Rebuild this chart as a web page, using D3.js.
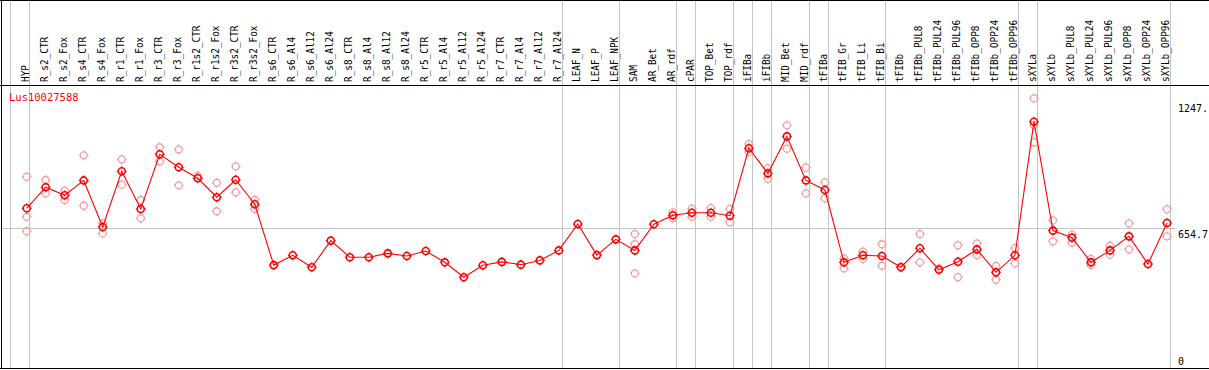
<!DOCTYPE html>
<html>
<head>
<meta charset="utf-8">
<script src="https://cdn.jsdelivr.net/npm/d3@7"></script>
<style>
  body { margin: 0; background: #fff; }
  text { font-family: "DejaVu Sans Mono", "Liberation Mono", monospace; }
</style>
</head>
<body>
<script>
var geneName = "Lus10027588";

var samples = ["HYP","R_s2_CTR","R_s2_Fox","R_s4_CTR","R_s4_Fox","R_r1_CTR","R_r1_Fox","R_r3_CTR","R_r3_Fox",
  "R_r1s2_CTR","R_r1s2_Fox","R_r3s2_CTR","R_r3s2_Fox","R_s6_CTR","R_s6_Al4","R_s6_Al12","R_s6_Al24",
  "R_s8_CTR","R_s8_Al4","R_s8_Al12","R_s8_Al24","R_r5_CTR","R_r5_Al4","R_r5_Al12","R_r5_Al24",
  "R_r7_CTR","R_r7_Al4","R_r7_Al12","R_r7_Al24","LEAF_N","LEAF_P","LEAF_NPK","SAM","AR_Bet","AR_rdf",
  "cPAR","TOP_Bet","TOP_rdf","iFIBa","iFIBb","MID_Bet","MID_rdf","tFIBa","tFIB_Gr","tFIB_Li","tFIB_Bi",
  "tFIBb","tFIBb_PUL8","tFIBb_PUL24","tFIBb_PUL96","tFIBb_OPP8","tFIBb_OPP24","tFIBb_OPP96",
  "sXYLa","sXYLb","sXYLb_PUL8","sXYLb_PUL24","sXYLb_PUL96","sXYLb_OPP8","sXYLb_OPP24","sXYLb_OPP96"];

// first sample of each tissue group (grey separators)
var groupStarts = ["HYP","R_s2_CTR","LEAF_N","SAM","cPAR","TOP_Bet","iFIBa","iFIBb","MID_Bet",
  "tFIBa","tFIB_Gr","tFIBb","sXYLa","sXYLb"];

var means = [746,845,807,877,658,920,743,1000,939,887,798,880,765,479,525,469,594,516,516,534,522,
  545,492,422,478,494,481,501,548,672,526,600,548,671,713,725,725,711,1028,910,1084,877,832,
  492,525,522,469,558,457,495,553,445,525,1153,641,608,492,548,614,484,677];

var replicates = [[894,706,638],[879,816],[829,785],[995,758],[675,628],[976,857],[785,699],[1033,967],
  [1023,854],[898],[866,732],[943,821],[785,743],[],[],[],[],[],[],[],[],[],[],[],[],[],[],[],[],
  [],[],[],[625,578,440],[],[727,699],[744,706],[747,706],[743,680],[1048,1011],[935,885],
  [1136,1026],[937,816],[868,793],[511,464],[542,508],[577,476],[471],[625,492],[463],[572,422],
  [581,526],[475,410],[559,487],[1263,1137,1056],[689,591],[622,584],[508,479],[570,528],
  [675,553],[],[741,614]];

var yTicks = [0, 654.7, 1247];
var yTickLabels = ["0", "654.7", "1247."];
var refLine = 654.7;

var width = 1209, height = 370;
var headerY = 85, bottomY = 368;

var svg = d3.select("body").append("svg")
  .attr("width", width).attr("height", height);

var x = d3.scaleBand().domain(samples).range([11.4, 1170.7]).paddingInner(0).paddingOuter(0);
var px = function(s) { return x(s) + 15.3; };
var y = d3.scaleLinear().domain([0, 1247]).range([367, 101.7]);

// separators
var seps = groupStarts.map(function(s){ return x(s); }).concat([x.range()[1]]);
svg.append("g").selectAll("line").data(seps).enter().append("line")
  .attr("x1", function(d){ return Math.round(d) - 0.5; })
  .attr("x2", function(d){ return Math.round(d) - 0.5; })
  .attr("y1", 0).attr("y2", bottomY)
  .attr("stroke", "#c4c4c4").attr("stroke-width", 1);

// reference line
svg.append("line")
  .attr("x1", 1).attr("x2", 1176)
  .attr("y1", Math.round(y(refLine)) + 0.5).attr("y2", Math.round(y(refLine)) + 0.5)
  .attr("stroke", "#c4c4c4");

// frame
svg.append("line").attr("x1", 0).attr("x2", width).attr("y1", 0.5).attr("y2", 0.5).attr("stroke", "#000");
svg.append("line").attr("x1", 0).attr("x2", width).attr("y1", headerY + 0.5).attr("y2", headerY + 0.5).attr("stroke", "#000");
svg.append("line").attr("x1", 0).attr("x2", width).attr("y1", bottomY + 0.5).attr("y2", bottomY + 0.5).attr("stroke", "#000");
svg.append("line").attr("x1", 1.5).attr("x2", 1.5).attr("y1", 0).attr("y2", bottomY).attr("stroke", "#000");

// column labels
svg.append("g").selectAll("text").data(samples).enter().append("text")
  .attr("transform", function(d){ return "translate(" + (px(d) + 2.5) + "," + 82 + ") rotate(-90)"; })
  .attr("font-size", "11px")
  .attr("textLength", function(d){ return d.length * 5.65; })
  .attr("lengthAdjust", "spacingAndGlyphs")
  .attr("fill", "#000")
  .text(function(d){ return d; });

// y axis on the right
var yAxis = d3.axisRight(y).tickValues(yTicks).tickSize(0)
  .tickFormat(function(d, i){ return yTickLabels[i]; });
var ag = svg.append("g").attr("transform", "translate(1175,0)").call(yAxis);
ag.select(".domain").remove();
ag.selectAll("text")
  .attr("font-family", "DejaVu Sans Mono, monospace")
  .attr("font-size", "10px")
  .attr("fill", "#000")
  .attr("x", 3)
  .attr("dy", function(d){ return d === 0 ? "-0.3em" : "0.95em"; });

// gene name
svg.append("text").attr("x", 9).attr("y", 101)
  .attr("font-size", "10.5px").attr("fill", "#ff0000").text(geneName);

function marker(g, color, sw) {
  g.append("circle").attr("r", 3.5).attr("fill", "none").attr("stroke", color).attr("stroke-width", sw);
  [[0,-1],[0,1],[-1,0],[1,0]].forEach(function(v){
    g.append("line")
      .attr("x1", v[0] * 3.5).attr("y1", v[1] * 3.5)
      .attr("x2", v[0] * 5).attr("y2", v[1] * 5)
      .attr("stroke", color).attr("stroke-width", 1);
  });
}

// replicates
var repPts = [];
replicates.forEach(function(r, i){
  r.forEach(function(v){ repPts.push({s: samples[i], v: v}); });
});
svg.append("g").selectAll("g").data(repPts).enter().append("g")
  .attr("transform", function(d){ return "translate(" + px(d.s) + "," + y(d.v) + ")"; })
  .each(function(){ marker(d3.select(this), "#f0a0a0", 1.3); });

// mean line
var line = d3.line()
  .x(function(d, i){ return px(samples[i]); })
  .y(function(d){ return y(d); });
svg.append("path").datum(means)
  .attr("d", line).attr("fill", "none").attr("stroke", "#ff0000").attr("stroke-width", 1.1);

// mean markers
svg.append("g").selectAll("g").data(means).enter().append("g")
  .attr("transform", function(d, i){ return "translate(" + px(samples[i]) + "," + y(d) + ")"; })
  .each(function(){ marker(d3.select(this), "#ff0000", 1.6); });
</script>
</body>
</html>
